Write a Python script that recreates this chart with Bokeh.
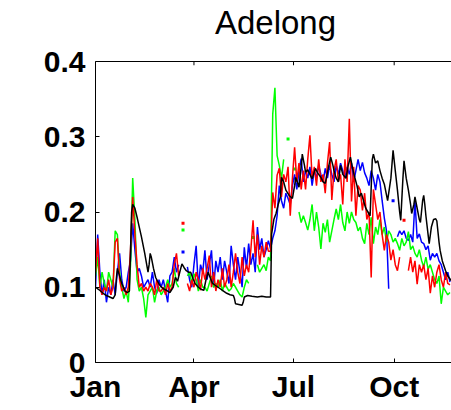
import numpy as np
from bokeh.plotting import figure
from bokeh.models import Range1d, FixedTicker, CustomJSTickFormatter, Span, Label
from bokeh.embed import file_html
from bokeh.resources import INLINE

nan = float("nan")

# Tick positions (day of year) and their month labels
month_ticks = [1, 91, 182, 274]
month_labels = ["Jan", "Apr", "Jul", "Oct"]
y_ticks = [0, 0.1, 0.2, 0.3, 0.4]
chart_title = "Adelong"

# Daily sampled series, every second day from day 1 to day 325
series_days = list(range(1, 326, 2))

blue_vals = [
    0.10, 0.17, 0.12, 0.09, 0.11, 0.08, 0.10, 0.09, 0.11, 0.09,
    0.12, 0.145, 0.11, 0.095, 0.10, 0.12, 0.135, 0.185, 0.15, 0.12,
    0.125, 0.115, 0.10, 0.105, 0.11, 0.10, 0.12, 0.10, 0.092, 0.11,
    0.10, 0.11, 0.095, 0.08, 0.115, 0.12, 0.14, 0.12, 0.13, nan,
    0.147, nan, 0.127, 0.11, 0.10, 0.13, 0.155, 0.10, 0.13, 0.12,
    0.149, 0.11, 0.13, 0.149, 0.10, 0.135, 0.12, 0.14, 0.11, 0.135,
    0.12, 0.105, 0.155, 0.13, 0.11, 0.14, 0.12, 0.10, 0.153, 0.125,
    0.158, 0.13, 0.145, 0.12, 0.18, 0.15, 0.165, 0.14, 0.15, 0.162,
    0.151, 0.165, 0.175, 0.195, 0.235, 0.215, 0.205, 0.225, 0.218, 0.21,
    0.235, 0.25, 0.23, 0.255, 0.271, 0.24, 0.255, 0.245, 0.26, 0.235,
    0.255, 0.245, 0.262, 0.25, 0.24, 0.258, 0.245, 0.262, 0.25, 0.24,
    0.262, 0.25, 0.265, 0.255, 0.245, 0.26, 0.25, 0.265, 0.24, 0.255,
    0.27, 0.255, 0.266, 0.252, 0.245, 0.235, 0.255, 0.245, 0.229, 0.25,
    0.24, 0.215, 0.192, 0.175, 0.098, nan, 0.215, nan, 0.167, 0.175,
    0.17, 0.175, 0.165, 0.162, 0.17, 0.16, 0.215, 0.165, 0.171, 0.16,
    0.158, 0.15, 0.155, 0.136, 0.145, 0.14, 0.145, 0.135, 0.13, 0.12,
    0.11, 0.12, 0.107,
]

red_vals = [
    0.12, 0.165, 0.10, 0.09, 0.10, 0.095, 0.11, 0.09, 0.10, 0.16,
    0.165, 0.11, 0.095, 0.10, 0.09, 0.10, 0.15, 0.22, 0.17, 0.13,
    0.10, 0.105, 0.095, 0.10, 0.095, 0.105, 0.10, 0.09, 0.11, 0.095,
    0.095, 0.10, 0.09, 0.105, 0.095, 0.10, 0.13, 0.145, 0.115, nan,
    0.185, nan, 0.105, 0.095, 0.11, 0.10, 0.12, 0.11, 0.096, 0.125,
    0.11, 0.125, 0.142, 0.10, 0.12, 0.095, 0.11, 0.10, 0.125, 0.10,
    0.11, 0.13, 0.10, 0.12, 0.145, 0.12, 0.105, 0.14, 0.115, 0.13,
    0.12, 0.15, 0.189, 0.14, 0.17, 0.13, 0.155, 0.14, 0.16, 0.148,
    0.148, 0.226, 0.205, 0.249, 0.258, 0.22, 0.25, 0.24, 0.26, 0.195,
    0.245, 0.286, 0.24, 0.265, 0.23, 0.255, 0.23, 0.27, 0.302, 0.245,
    0.26, 0.235, 0.27, 0.24, 0.25, 0.225, 0.265, 0.293, 0.216, 0.255,
    0.27, 0.24, 0.25, 0.21, 0.27, 0.24, 0.324, 0.214, 0.26, 0.195,
    0.235, 0.229, 0.202, 0.225, 0.19, 0.20, 0.113, 0.23, 0.21, 0.19,
    0.20, 0.17, 0.149, 0.17, 0.16, 0.136, 0.15, 0.13, 0.122, 0.14,
    nan, 0.189, nan, 0.122, 0.14, 0.12, 0.135, 0.104, 0.13, 0.12,
    0.13, 0.11, 0.125, 0.092, 0.115, 0.10, 0.12, 0.13, 0.11, 0.10,
    0.12, 0.105, 0.103,
]

green_vals = [
    0.115, 0.14, 0.10, 0.12, 0.105, 0.095, 0.12, 0.11, 0.10, 0.175,
    0.17, 0.12, 0.10, 0.085, 0.095, 0.08, 0.13, 0.245, 0.19, 0.11,
    0.095, 0.10, 0.085, 0.06, 0.09, 0.095, 0.10, 0.08, 0.095, 0.10,
    0.09, 0.095, 0.10, 0.11, 0.10, 0.105, 0.125, 0.105, 0.10, nan,
    0.176, nan, 0.115, 0.12, 0.105, 0.118, 0.11, 0.095, 0.11, 0.10,
    0.10, 0.095, 0.105, 0.115, 0.10, 0.105, 0.10, 0.11, 0.095, 0.105,
    0.10, 0.095, 0.098, 0.105, 0.10, 0.095, 0.09, 0.087, 0.10, 0.11,
    0.105, nan, 0.166, nan, 0.13, 0.12, 0.125, 0.13, 0.122, 0.14,
    0.135, 0.33, 0.365, 0.275, 0.262, 0.245, 0.27, nan, 0.297, nan,
    nan, 0.257, nan, 0.20, 0.186, 0.195, 0.186, 0.176, 0.19, 0.21,
    0.175, 0.20, 0.18, 0.151, 0.185, 0.173, 0.19, 0.16, 0.175, 0.19,
    0.204, 0.19, 0.21, 0.186, 0.175, 0.20, 0.185, 0.20, 0.19, 0.186,
    0.175, 0.18, 0.165, 0.158, 0.185, 0.17, 0.193, 0.158, 0.18, 0.17,
    0.19, 0.17, 0.18, 0.16, 0.175, 0.17, 0.16, 0.165, 0.158, 0.149,
    0.165, 0.155, 0.16, 0.174, 0.15, 0.155, 0.145, 0.14, 0.15, 0.136,
    0.127, 0.14, 0.124, 0.13, 0.12, 0.11, 0.105, 0.115, 0.078, 0.10,
    0.095, 0.09, 0.093,
]

# Black reference series (irregular days)
black_days = [
    1, 4, 8, 11, 14, 17, 19, 20, 21, 23, 25, 28, 30, 32, 34, 35, 37, 39, 41, 43,
    46, 49, 50, 51, 52, 54, 56, 58, 60, 63, 66, 69, 72, 74, 76, 78, 80, 82, 84, 86,
    88, 90, 92, 95, 98, 100, 102, 104, 106, 108, 111, 115, 118, 121, 124, 127, 128, 129, 132, 135,
    136, 137, 140, 144, 149, 153, 157, 161, 162, 164, 166, 168, 170, 171, 173, 175, 178, 181, 183, 184,
    186, 187, 189, 190, 192, 193, 195, 197, 199, 202, 204, 207, 209, 211, 214, 216, 218, 219, 221, 223,
    225, 227, 230, 232, 234, 236, 238, 240, 242, 244, 246, 248, 250, 252, 254, 255, 257, 259, 261, 263,
    265, 268, 270, 271, 273, 275, 277, 279, 280, 282, 283, 285, 287, 289, 290, 292, 293, 295, 297, 298,
    300, 301, 302, 303, 305, 306, 308, 310, 312, 313, 315, 316, 318, 321, 323, 326,
]
black_vals = [
    0.100, 0.097, 0.092, 0.089, 0.087, 0.085, 0.090, 0.111, 0.125, 0.115, 0.105, 0.095, 0.093, 0.095, 0.200, 0.210, 0.205, 0.193, 0.180, 0.167,
    0.145, 0.120, 0.130, 0.145, 0.140, 0.125, 0.113, 0.107, 0.102, 0.098, 0.096, 0.093, 0.100, 0.113, 0.108, 0.120, 0.131, 0.126, 0.122, 0.120,
    0.120, 0.112, 0.105, 0.100, 0.097, 0.096, 0.110, 0.120, 0.112, 0.105, 0.102, 0.098, 0.095, 0.092, 0.090, 0.089, 0.085, 0.078, 0.077, 0.076,
    0.080, 0.087, 0.089, 0.088, 0.087, 0.088, 0.087, 0.087, 0.171, 0.190, 0.198, 0.210, 0.220, 0.246, 0.240, 0.229, 0.222, 0.218, 0.235, 0.246,
    0.238, 0.233, 0.260, 0.277, 0.262, 0.253, 0.256, 0.250, 0.244, 0.258, 0.252, 0.246, 0.240, 0.238, 0.260, 0.273, 0.262, 0.255, 0.245, 0.240,
    0.262, 0.250, 0.245, 0.262, 0.273, 0.258, 0.246, 0.235, 0.220, 0.225, 0.215, 0.205, 0.200, 0.195, 0.270, 0.277, 0.265, 0.268, 0.255, 0.245,
    0.237, 0.215, 0.235, 0.245, 0.282, 0.255, 0.229, 0.200, 0.189, 0.245, 0.268, 0.245, 0.229, 0.210, 0.198, 0.210, 0.220, 0.205, 0.190, 0.186,
    0.215, 0.222, 0.210, 0.195, 0.170, 0.158, 0.180, 0.190, 0.191, 0.188, 0.160, 0.149, 0.135, 0.122, 0.115, 0.109,
]

# The drawing area reaches the top of the canvas so the title sits inside it;
# the axes box itself is 0..0.4 (301 px tall), leaving 61 px of headroom.
y_top = y_ticks[-1]
px_per_unit = 301 / y_top
y_end = y_top + 61 / px_per_unit

p = figure(
    width=451, height=410,
    x_range=Range1d(1, 326.4), y_range=Range1d(0, y_end),
    output_backend="svg", toolbar_location=None,
    min_border_left=95, min_border_right=0, min_border_top=0, min_border_bottom=48,
)
p.background_fill_color = "white"
p.border_fill_color = "white"
p.outline_line_color = None
p.xgrid.visible = False
p.ygrid.visible = False

xd = np.array(series_days, dtype=float)
for vals, col in [(blue_vals, "#0000FF"), (green_vals, "#00FF00"), (red_vals, "#FF0000")]:
    v = np.array(vals, dtype=float)
    p.line(xd, v, line_color=col, line_width=1.5)
    # isolated samples (no valid neighbour) are shown as dots
    prev_nan = np.concatenate([[True], np.isnan(v[:-1])])
    next_nan = np.concatenate([np.isnan(v[1:]), [True]])
    iso = (~np.isnan(v)) & prev_nan & next_nan
    p.scatter(xd[iso], v[iso], marker="square", size=3, fill_color=col, line_color=None)

p.line(black_days, black_vals, line_color="black", line_width=1.5)

tick_font = "Liberation Sans"
for ax in (p.xaxis[0], p.yaxis[0]):
    ax.axis_line_color = "black"
    ax.axis_line_width = 1
    ax.major_tick_in = 4
    ax.major_tick_out = 0
    ax.minor_tick_line_color = None
    ax.major_label_text_font = tick_font
    ax.major_label_text_font_size = "30px"
    ax.major_label_text_font_style = "bold"
    ax.major_label_text_color = "black"

p.xaxis.ticker = FixedTicker(ticks=month_ticks)
p.xaxis.major_label_overrides = {t: s for t, s in zip(month_ticks, month_labels)}
p.xaxis.major_label_standoff = 7
p.yaxis.ticker = FixedTicker(ticks=y_ticks)
p.yaxis.bounds = (0, y_top)
p.yaxis.formatter = CustomJSTickFormatter(code="return tick == 0 ? '0' : tick.toFixed(1);")
p.yaxis.major_label_standoff = 10

# top box edge with inward month ticks
p.add_layout(Span(location=y_top, dimension="width", line_color="black", line_width=1))
p.segment(x0=month_ticks, y0=[y_top] * len(month_ticks),
          x1=month_ticks, y1=[y_top - 0.005] * len(month_ticks),
          line_color="black", line_width=1)

# chart title, centred over the axes box (which runs past the right edge)
p.add_layout(Label(
    x=180, y=340, x_units="screen", y_units="screen",
    text=chart_title, text_align="center", text_baseline="alphabetic",
    text_font="Liberation Sans", text_font_size="33px", text_color="black",
))

open("out.html", "w").write(file_html(p, INLINE))
